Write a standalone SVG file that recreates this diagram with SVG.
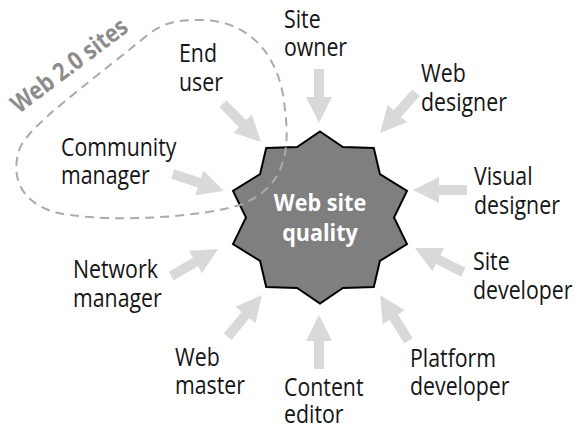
<svg xmlns="http://www.w3.org/2000/svg" width="577" height="430" viewBox="0 0 577 430">
  <style>
    .lbl { font-family: "Open Sans", "Noto Sans", "Liberation Sans", sans-serif; font-size: 25px; fill: #151515; }
    .core { font-family: "Open Sans", "Noto Sans", "Liberation Sans", sans-serif; font-size: 24px; font-weight: bold; fill: #ffffff; text-anchor: middle; }
    .region { font-family: "Open Sans", "Noto Sans", "Liberation Sans", sans-serif; font-size: 25px; font-weight: bold; fill: #8c8c8c; }
    .arrow { fill: #d9d9d9; }
    .star { fill: #7f7f7f; stroke: #000000; stroke-width: 2; stroke-linejoin: miter; }
    .blob { fill: none; stroke: #ababab; stroke-width: 2; stroke-dasharray: 9 6; }
  </style>
  <defs>
    <path id="blockArrow" d="M-54,-5 H-26 V-13 L0,0 L-26,13 V5 H-54 Z"/>
  </defs>
  <rect width="577" height="430" fill="#ffffff"/>

  <g id="connectors">
    <use href="#blockArrow" class="arrow" transform="translate(319,123) rotate(90)"/>
    <use href="#blockArrow" class="arrow" transform="translate(380,133) rotate(131.8)"/>
    <use href="#blockArrow" class="arrow" transform="translate(413,190) rotate(180)"/>
    <use href="#blockArrow" class="arrow" transform="translate(415,248) rotate(206.6)"/>
    <use href="#blockArrow" class="arrow" transform="translate(380,295) rotate(238.1)"/>
    <use href="#blockArrow" class="arrow" transform="translate(319,315) rotate(-90)"/>
    <use href="#blockArrow" class="arrow" transform="translate(262,295) rotate(-50.6)"/>
    <use href="#blockArrow" class="arrow" transform="translate(218,249) rotate(-30)"/>
    <use href="#blockArrow" class="arrow" transform="translate(224,191) rotate(18.4)"/>
    <use href="#blockArrow" class="arrow" transform="translate(261,142) rotate(45)"/>
  </g>

  <g id="web-site-quality">
    <polygon class="star" points="320,131.5 342.9,147.1 373.8,147.9 379.9,174 407,190.9 394,217.5 407,244.1 379.9,261 373.8,287.1 342.9,287.9 320,303.5 297.1,287.9 266.2,287.1 260.1,261 233,244.1 246,217.5 233,190.9 260.1,174 266.2,147.9 297.1,147.1"/>
  </g>

  <g id="web20-sites">
    <path class="blob" d="M195,20 C245,18 275,50 283,95 C290,140 292,185 240,205 C200,217 120,222 70,215 C25,210 8,180 20,148 C30,125 80,90 150,33 C165,22 180,20 195,20 Z"/>
    <text class="region" transform="translate(19,114) rotate(-37) scale(0.86,1)">Web 2.0 sites</text>
  </g>

  <g id="core-label">
    <text class="core" transform="translate(320,211) scale(0.9,1)"><tspan x="0" y="0">Web site</tspan><tspan x="0" y="30">quality</tspan></text>
  </g>

  <g id="site-owner"><text class="lbl" transform="translate(284,28) scale(0.853,1)"><tspan x="0" y="0">Site</tspan><tspan x="0" y="28">owner</tspan></text></g>
  <g id="end-user"><text class="lbl" transform="translate(179,62) scale(0.853,1)"><tspan x="0" y="0">End</tspan><tspan x="0" y="29">user</tspan></text></g>
  <g id="web-designer"><text class="lbl" transform="translate(421,82) scale(0.853,1)"><tspan x="0" y="0">Web</tspan><tspan x="0" y="29">designer</tspan></text></g>
  <g id="community-manager"><text class="lbl" transform="translate(61,156) scale(0.853,1)"><tspan x="0" y="0">Community</tspan><tspan x="0" y="28">manager</tspan></text></g>
  <g id="visual-designer"><text class="lbl" transform="translate(474,185) scale(0.853,1)"><tspan x="0" y="0">Visual</tspan><tspan x="0" y="29">designer</tspan></text></g>
  <g id="network-manager"><text class="lbl" transform="translate(73,278) scale(0.853,1)"><tspan x="0" y="0">Network</tspan><tspan x="0" y="29">manager</tspan></text></g>
  <g id="site-developer"><text class="lbl" transform="translate(473,270) scale(0.853,1)"><tspan x="0" y="0">Site</tspan><tspan x="0" y="29">developer</tspan></text></g>
  <g id="web-master"><text class="lbl" transform="translate(175,366) scale(0.853,1)"><tspan x="0" y="0">Web</tspan><tspan x="0" y="28">master</tspan></text></g>
  <g id="platform-developer"><text class="lbl" transform="translate(410,367) scale(0.853,1)"><tspan x="0" y="0">Platform</tspan><tspan x="0" y="28">developer</tspan></text></g>
  <g id="content-editor"><text class="lbl" transform="translate(284,396) scale(0.853,1)"><tspan x="0" y="0">Content</tspan><tspan x="0" y="27">editor</tspan></text></g>
</svg>
